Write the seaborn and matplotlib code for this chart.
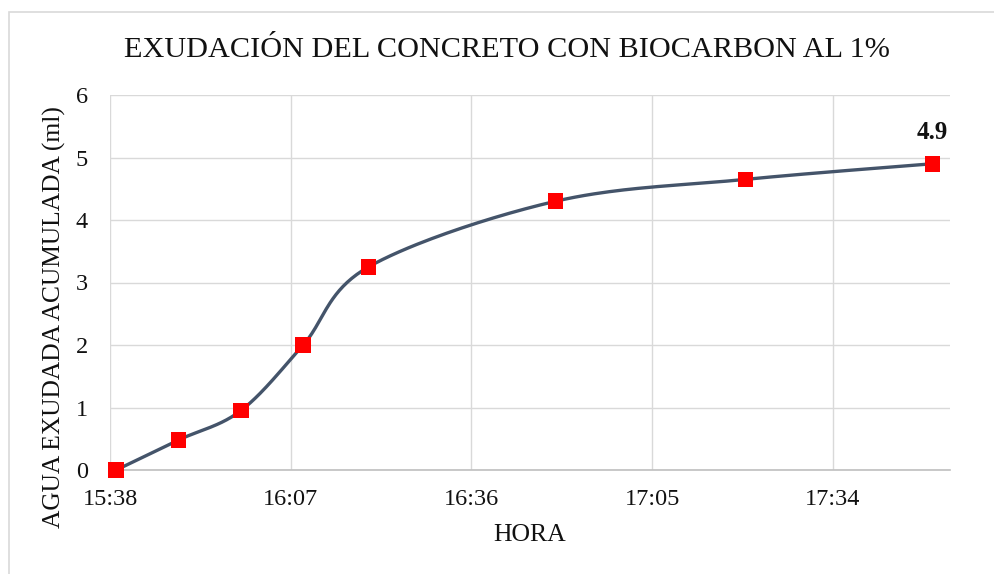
import numpy as np
import pandas as pd
import matplotlib
matplotlib.use("Agg")
import matplotlib.pyplot as plt
import seaborn as sns

# minutes after 15:38 and accumulated bleed water (ml)
minutes = [1, 11, 21, 31, 41.5, 71.5, 102, 132]
agua_ml = [0.0, 0.48, 0.95, 2.0, 3.25, 4.3, 4.65, 4.9]
tick_minutes = [0, 29, 58, 87, 116]
tick_labels = ["15:38", "16:07", "16:36", "17:05", "17:34"]

LINE_COLOR = "#44546A"
GRID_COLOR = "#D9D9D9"
TEXT_COLOR = "#111111"

sns.set_theme(style="white")
plt.rcParams["font.family"] = ["Liberation Serif", "DejaVu Serif"]


def smooth_curve(ax, x, y, n=40):
    # Excel-like smoothed line: Catmull-Rom bezier computed in screen space
    pts = ax.transData.transform(np.column_stack([x, y]))
    out = []
    for i in range(len(pts) - 1):
        p0 = pts[i - 1] if i > 0 else pts[i]
        p1, p2 = pts[i], pts[i + 1]
        p3 = pts[i + 2] if i + 2 < len(pts) else pts[i + 1]
        c1 = p1 + (p2 - p0) / 6
        c2 = p2 - (p3 - p1) / 6
        t = np.linspace(0, 1, n)[:, None]
        seg = ((1 - t) ** 3) * p1 + 3 * ((1 - t) ** 2) * t * c1 + 3 * (1 - t) * t ** 2 * c2 + t ** 3 * p2
        out.append(seg if i == 0 else seg[1:])
    out = ax.transData.inverted().transform(np.vstack(out))
    return out[:, 0], out[:, 1]


fig = plt.figure(figsize=(9.94, 5.74), dpi=100)
ax = fig.add_axes([110 / 994, 1 - 470 / 574, 840 / 994, 375 / 574])

ax.set_xlim(0, 134.8)
ax.set_ylim(0, 6)

sx, sy = smooth_curve(ax, minutes, agua_ml)
sns.lineplot(x=sx, y=sy, sort=False, color=LINE_COLOR, linewidth=2.4, ax=ax, zorder=3)
df = pd.DataFrame({"min": minutes, "agua": agua_ml})
sns.scatterplot(data=df, x="min", y="agua", marker="s", s=125, color="#FF0000",
                edgecolor="none", linewidth=0, ax=ax, zorder=4, clip_on=False)

ax.annotate(f"{agua_ml[-1]:.1f}", (minutes[-1], agua_ml[-1]), xytext=(0, 14),
            textcoords="offset points", ha="center", va="bottom",
            fontsize=18, fontweight="bold", color=TEXT_COLOR)

ax.set_xticks(tick_minutes)
ax.set_xticklabels(tick_labels)
ax.set_yticks(range(0, 7))
ax.tick_params(axis="both", length=0, labelsize=17.5, colors=TEXT_COLOR)
ax.tick_params(axis="x", pad=14)
ax.tick_params(axis="y", pad=16)
ax.grid(True, color=GRID_COLOR, linewidth=1)
ax.set_axisbelow(True)
for side in ["top", "right", "left"]:
    ax.spines[side].set_visible(False)
ax.spines["bottom"].set_color("#BFBFBF")
ax.spines["bottom"].set_linewidth(1.2)

ax.set_xlabel("HORA", fontsize=18.5, color=TEXT_COLOR, labelpad=10)
ax.set_ylabel("AGUA EXUDADA ACUMULADA (ml)", fontsize=18.4, color=TEXT_COLOR)
ax.yaxis.set_label_coords(-0.052, 0.408)
fig.text(507 / 994, 1 - 50 / 574, "EXUDACIÓN DEL CONCRETO CON BIOCARBON AL 1%",
         ha="center", va="center", fontsize=21.8, color=TEXT_COLOR)

# chart area border
fig.patches.append(plt.Rectangle((9 / 994, -0.05), 1.1, 1 - 12 / 574 + 0.05,
                                 transform=fig.transFigure, fill=False,
                                 edgecolor="#D9D9D9", linewidth=1.2))

fig.savefig("out.png", dpi=100)
